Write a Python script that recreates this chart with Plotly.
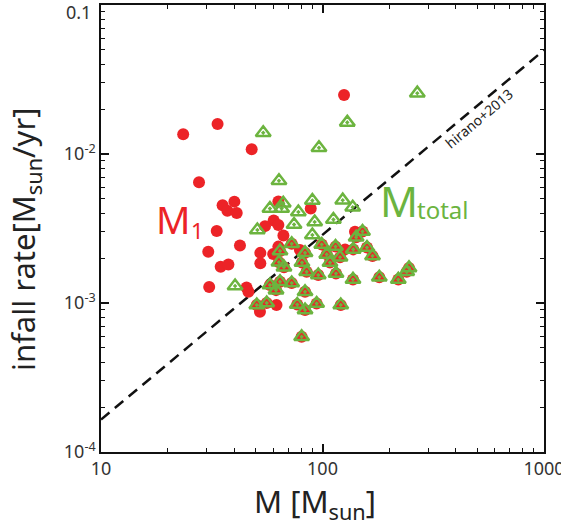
import plotly.graph_objects as go

# Binary systems: primary mass (M1) and total mass share the system's infall rate
m1_mass = [125.1, 33.6, 23.5, 47.9, 27.7, 35.4, 40.0, 37.2, 41.0, 63.2, 88.5, 33.3,
           60.2, 63.2, 55.0, 66.6, 42.4, 30.5, 52.4, 52.4, 59.9, 34.7, 37.6, 63.2,
           126.4, 140.2, 30.8, 45.4, 46.3, 52.2, 62.0, 79.1]
m1_rate = [0.0249, 0.0159, 0.01356, 0.01075, 0.00646, 0.00453, 0.00479, 0.00416, 0.00402,
           0.00480, 0.00430, 0.00304, 0.00358, 0.00334, 0.00328, 0.00284, 0.00243, 0.00221,
           0.00217, 0.00185, 0.00213, 0.00175, 0.00181, 0.00239, 0.00229, 0.00301, 0.00128,
           0.00127, 0.00119, 0.000874, 0.000970, 0.00227]

mtot_mass = [267.9, 129.4, 54.0, 96.4, 63.6, 90.0, 66.5, 57.9, 65.4, 77.8, 123.4, 136.9,
             92.2, 74.4, 112.0, 50.8, 90.0, 40.3]
mtot_rate = [0.0256, 0.0163, 0.0139, 0.0110, 0.00662, 0.00487, 0.00467, 0.00430, 0.00430,
             0.00408, 0.00490, 0.00439, 0.00350, 0.00336, 0.00363, 0.00309, 0.00286, 0.00130]

# Single-star systems: M1 equals the total mass
single_mass = [151.6, 141.9, 72.6, 99.2, 114.5, 137.7, 158.8, 168.2, 64.3, 63.6, 67.0,
               83.4, 104.5, 120.0, 80.8, 108.1, 84.8, 95.7, 115.1, 137.3, 180.5, 219.9,
               240.0, 245.8, 57.9, 64.3, 61.7, 72.6, 83.4, 50.5, 56.0, 76.9, 83.4, 94.1,
               120.9, 80.5]
single_rate = [0.00302, 0.00276, 0.00250, 0.00247, 0.00239, 0.00229, 0.00236, 0.00207,
               0.00223, 0.00188, 0.00174, 0.00217, 0.00212, 0.00203, 0.00187, 0.00187,
               0.00162, 0.00154, 0.00158, 0.00144, 0.00149, 0.00144, 0.00162, 0.00172,
               0.00132, 0.00139, 0.00122, 0.00136, 0.00119, 0.000970, 0.00100, 0.000977,
               0.000897, 0.000992, 0.000970, 0.000594]

# Hirano et al. (2013) relation
hirano_mass = [10, 1000]
hirano_rate = [1.65e-4, 0.0498]

# Tick positions
major_x = [10, 100, 1000]
major_x_text = ["10", "100", "1000"]
major_y = [1e-4, 1e-3, 1e-2, 1e-1]
major_y_text = ["10<sup>-4</sup>", "10<sup>-3</sup>", "10<sup>-2</sup>", ""]
minor_x = [m * 10 ** k for k in (1, 2) for m in range(2, 10)]
minor_y = [m * 10.0 ** k for k in (-4, -3, -2) for m in range(2, 10)]

RED = "#ec2327"
GREEN = "#6cb43f"
FONT = "Noto Sans"
TXT = "#333333"
TICK = "#111111"

fig = go.Figure()

fig.add_trace(go.Scatter(
    x=hirano_mass, y=hirano_rate, mode="lines",
    line=dict(color="#111111", width=2.5, dash="11px,7px"),
    hoverinfo="skip", showlegend=False))

fig.add_trace(go.Scatter(
    x=m1_mass + single_mass, y=m1_rate + single_rate, mode="markers",
    marker=dict(symbol="circle", size=12, color=RED, line=dict(width=0)),
    name="M1", showlegend=False))

fig.add_trace(go.Scatter(
    x=mtot_mass + single_mass, y=mtot_rate + single_rate, mode="markers",
    marker=dict(symbol="triangle-up-open-dot", size=13, color=GREEN,
                line=dict(width=2.5, color=GREEN)),
    name="Mtotal", showlegend=False))

# invisible trace holding the minor-tick overlay axes
fig.add_trace(go.Scatter(
    x=hirano_mass, y=hirano_rate, mode="lines", xaxis="x2", yaxis="y2",
    line=dict(width=0), opacity=0, hoverinfo="skip", showlegend=False))


def px(xp, yp):
    return (xp - 101) / 443, (452 - yp) / 447


annots = []
x0, y0 = px(173, 219)
annots.append(dict(text="M", x=x0, y=y0, font=dict(size=38, color=RED, family=FONT)))
x0, y0 = px(197, 230)
annots.append(dict(text="1", x=x0, y=y0, font=dict(size=22, color=RED, family=FONT)))
x0, y0 = px(399, 200)
annots.append(dict(text="M", x=x0, y=y0, font=dict(size=42, color=GREEN, family=FONT)))
x0, y0 = px(443, 209)
annots.append(dict(text="total", x=x0, y=y0, font=dict(size=24, color=GREEN, family=FONT)))
x0, y0 = px(479, 119)
annots.append(dict(text="hirano+2013", x=x0, y=y0, textangle=-40,
                   font=dict(size=14, color="#222222", family=FONT)))
# top y tick label sits just below the upper frame
x0, y0 = px(92, 12)
annots.append(dict(text="0.1", x=x0, y=y0, xanchor="right",
                   font=dict(size=18, color=TXT, family=FONT)))
# axis titles
x0, y0 = px(315, 503)
annots.append(dict(text="M [M<sub>sun</sub>]", x=x0, y=y0,
                   font=dict(size=31, color="#222", family=FONT)))
x0, y0 = px(25, 240)
annots.append(dict(text="infall rate[M<sub>sun</sub>/yr]", x=x0, y=y0, textangle=-90,
                   font=dict(size=31, color="#222", family=FONT)))
for a in annots:
    a.setdefault("xanchor", "center")
    a.update(xref="paper", yref="paper", showarrow=False, borderpad=0,
             yanchor="middle")

common = dict(showgrid=False, zeroline=False, automargin=False,
              showline=True, linecolor="#111", linewidth=1.5)

fig.update_layout(
    width=561, height=524,
    margin=dict(l=101, r=17, t=5, b=72),
    plot_bgcolor="white", paper_bgcolor="white",
    font=dict(family=FONT, color=TXT),
    annotations=annots,
    xaxis=dict(
        type="log", range=[1, 3], tickmode="array",
        tickvals=major_x, ticktext=major_x_text,
        ticks="inside", ticklen=8, tickwidth=1.5, tickcolor=TICK,
        ticklabeloverflow="allow", mirror="allticks",
        tickfont=dict(size=18, color=TXT, family=FONT),
        **common),
    yaxis=dict(
        type="log", range=[-4, -1], tickmode="array",
        tickvals=major_y, ticktext=major_y_text,
        ticks="inside", ticklen=8, tickwidth=1.5, tickcolor=TICK,
        ticklabeloverflow="allow", mirror="allticks",
        tickfont=dict(size=18, color=TXT, family=FONT),
        **common),
    xaxis2=dict(
        type="log", range=[1, 3], overlaying="x", anchor="y", side="bottom",
        tickmode="array", tickvals=minor_x, showticklabels=False,
        ticks="inside", ticklen=4, tickwidth=1.2, tickcolor=TICK, mirror="allticks",
        **common),
    yaxis2=dict(
        type="log", range=[-4, -1], overlaying="y", anchor="x", side="left",
        tickmode="array", tickvals=minor_y, showticklabels=False,
        ticks="inside", ticklen=4, tickwidth=1.2, tickcolor=TICK, mirror="allticks",
        **common),
)

fig.write_html("out.html")
